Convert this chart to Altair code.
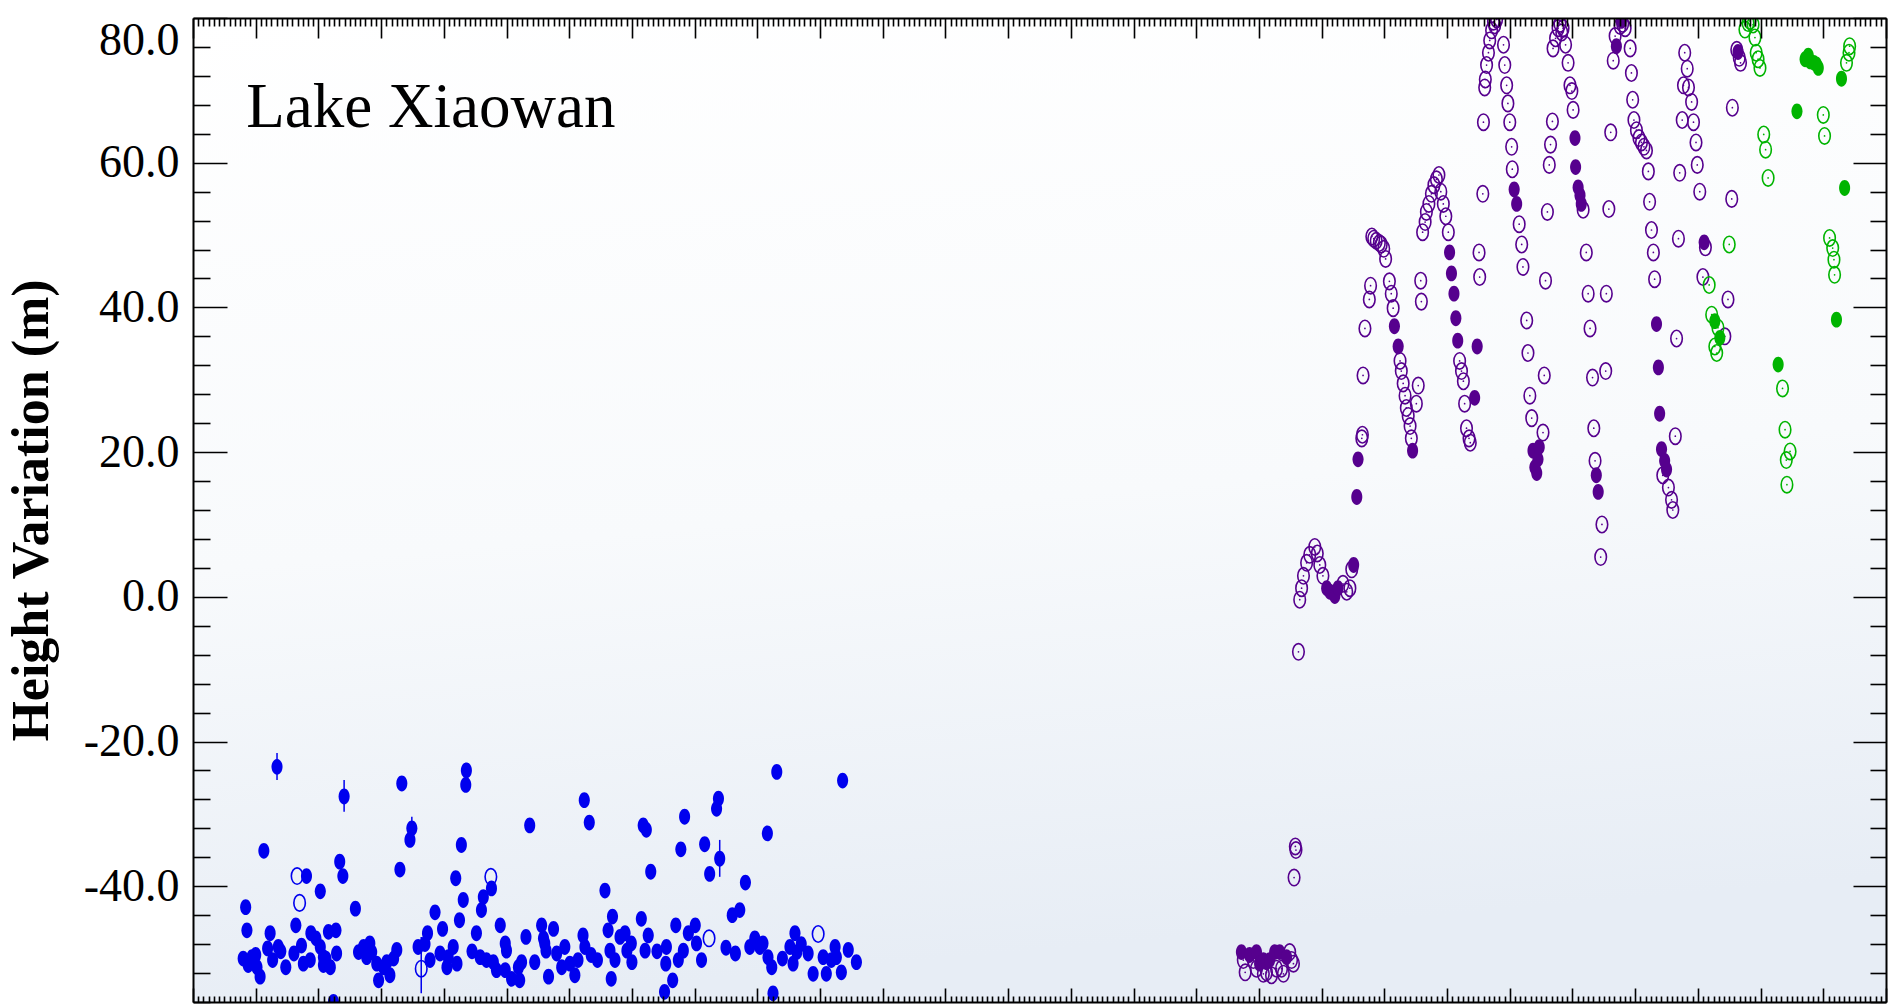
import altair as alt
import pandas as pd

# ---------------- data: (decimal year, height variation in m) ----------------
blue_filled = [
    (1992.80, -50.0), (1992.84, -42.9), (1992.86, -46.1), (1992.88, -50.9), (1992.94, -49.8),
    (1993.00, -49.5), (1993.02, -51.2), (1993.07, -52.5), (1993.13, -35.1), (1993.19, -48.6),
    (1993.23, -46.5), (1993.27, -50.2), (1993.34, -23.5), (1993.36, -48.4), (1993.40, -49.0),
    (1993.48, -51.2), (1993.61, -49.3), (1993.64, -45.4), (1993.73, -48.2), (1993.76, -50.7),
    (1993.81, -38.6), (1993.87, -50.2), (1993.88, -46.5), (1993.96, -47.2), (1994.03, -40.7),
    (1994.03, -48.4), (1994.08, -49.8), (1994.08, -50.9), (1994.12, -50.0), (1994.16, -46.3),
    (1994.19, -51.2), (1994.24, -56.0), (1994.28, -46.1), (1994.29, -49.3), (1994.34, -36.6),
    (1994.39, -38.6), (1994.41, -27.6), (1994.59, -43.1), (1994.64, -49.1), (1994.72, -48.4),
    (1994.77, -49.8), (1994.82, -47.9), (1994.85, -49.1), (1994.93, -50.7), (1994.96, -53.0),
    (1995.04, -51.2), (1995.09, -50.5), (1995.14, -52.3), (1995.20, -50.0), (1995.25, -48.8),
    (1995.30, -37.7), (1995.33, -25.8), (1995.46, -33.6), (1995.49, -32.0), (1995.59, -48.4),
    (1995.70, -48.0), (1995.74, -46.5), (1995.78, -50.2), (1995.86, -43.6), (1995.94, -49.3),
    (1995.98, -45.9), (1996.05, -51.2), (1996.07, -49.8), (1996.15, -48.4), (1996.19, -38.9),
    (1996.21, -50.7), (1996.25, -44.7), (1996.28, -34.3), (1996.31, -41.9), (1996.35, -26.0),
    (1996.36, -24.0), (1996.45, -49.0), (1996.52, -46.5), (1996.58, -49.8), (1996.60, -43.3),
    (1996.63, -41.5), (1996.68, -50.2), (1996.76, -40.3), (1996.79, -50.5), (1996.84, -51.6),
    (1996.90, -45.4), (1996.98, -47.9), (1997.00, -48.9), (1996.98, -51.6), (1997.08, -52.8),
    (1997.19, -51.2), (1997.21, -53.0), (1997.24, -50.5), (1997.31, -47.0), (1997.37, -31.6),
    (1997.45, -50.5), (1997.56, -45.4), (1997.59, -47.2), (1997.61, -47.9), (1997.63, -48.9),
    (1997.67, -52.5), (1997.75, -45.9), (1997.80, -49.3), (1997.88, -51.2), (1997.93, -48.4),
    (1998.01, -50.7), (1998.09, -52.3), (1998.14, -50.2), (1998.22, -46.8), (1998.24, -28.1),
    (1998.25, -48.4), (1998.32, -31.2), (1998.35, -49.5), (1998.45, -50.2), (1998.57, -40.6),
    (1998.62, -46.1), (1998.65, -48.9), (1998.67, -52.8), (1998.69, -44.2), (1998.73, -50.2),
    (1998.81, -47.0), (1998.89, -46.5), (1998.92, -48.9), (1998.99, -47.9), (1999.00, -50.5),
    (1999.15, -44.5), (1999.18, -31.6), (1999.21, -48.9), (1999.23, -32.2), (1999.26, -46.8),
    (1999.30, -38.0), (1999.40, -49.0), (1999.52, -54.6), (1999.54, -50.7), (1999.55, -48.4),
    (1999.65, -53.0), (1999.70, -45.4), (1999.74, -50.2), (1999.78, -34.9), (1999.82, -48.9),
    (1999.84, -30.4), (1999.90, -46.5), (2000.01, -45.4), (2000.03, -47.9), (2000.11, -50.2),
    (2000.16, -34.2), (2000.24, -38.3), (2000.35, -29.3), (2000.38, -27.9), (2000.40, -36.2),
    (2000.50, -48.5), (2000.60, -44.0), (2000.65, -49.3), (2000.72, -43.3), (2000.81, -39.5),
    (2000.88, -48.4), (2000.96, -47.2), (2001.04, -48.4), (2001.09, -47.9), (2001.16, -32.7),
    (2001.17, -49.8), (2001.23, -51.2), (2001.25, -54.8), (2001.31, -24.2), (2001.40, -50.0),
    (2001.52, -48.4), (2001.57, -50.7), (2001.60, -46.5), (2001.63, -49.1), (2001.70, -48.0),
    (2001.81, -49.3), (2001.89, -52.1), (2002.05, -49.8), (2002.10, -52.1), (2002.18, -50.2),
    (2002.24, -48.4), (2002.26, -49.8), (2002.34, -51.9), (2002.36, -25.4), (2002.45, -48.8),
    (2002.58, -50.5),
]
blue_open = [
    (1993.66, -38.6), (1993.70, -42.3), (1995.64, -51.4), (1996.75, -38.7),
    (2000.23, -47.2), (2001.97, -46.6),
]
# vertical error bars on a few blue points
err_year = [1993.34, 1994.41, 1995.49, 1995.64, 2000.40]
err_low = [-25.3, -29.7, -33.8, -54.8, -38.7]
err_high = [-21.6, -25.3, -30.4, -47.0, -33.6]

purple_filled = [
    (2008.72, -49.1), (2008.85, -49.5), (2008.96, -49.1), (2009.01, -50.7), (2009.07, -50.2),
    (2009.12, -50.5), (2009.17, -50.2), (2009.25, -49.1), (2009.33, -49.1), (2009.44, -49.8),
    (2010.08, 1.2), (2010.13, 0.7), (2010.21, 0.1), (2010.26, 1.2), (2010.51, 4.4),
    (2010.56, 13.8), (2010.58, 19.0),
    (2011.16, 37.4), (2011.22, 34.6), (2011.45, 20.2),
    (2012.04, 47.6), (2012.07, 44.7), (2012.11, 41.9), (2012.14, 38.5), (2012.17, 35.4),
    (2012.44, 27.5), (2012.48, 34.6),
    (2013.07, 56.3), (2013.11, 54.3), (2013.37, 20.2), (2013.40, 17.9), (2013.43, 17.1),
    (2013.45, 19.0), (2013.47, 20.7),
    (2014.04, 63.4), (2014.05, 59.4), (2014.09, 56.6), (2014.12, 55.5), (2014.14, 54.3),
    (2014.38, 16.8), (2014.41, 14.5), (2014.70, 76.1), (2014.78, 79.6),
    (2015.34, 37.7), (2015.37, 31.7), (2015.39, 25.3), (2015.42, 20.4), (2015.47, 18.8),
    (2015.50, 17.6), (2016.10, 49.0), (2016.64, 75.3),
]
purple_open = [
    (2008.75, -50.2), (2008.78, -51.9), (2008.91, -50.2), (2008.96, -51.4), (2009.07, -52.1),
    (2009.12, -51.9), (2009.20, -52.3), (2009.28, -51.4), (2009.36, -51.4), (2009.39, -52.1),
    (2009.49, -49.1), (2009.52, -50.2), (2009.55, -50.7),
    (2009.56, -38.8), (2009.58, -34.5), (2009.59, -35.0), (2009.63, -7.6),
    (2009.65, -0.4), (2009.68, 1.2), (2009.71, 2.9), (2009.76, 4.7), (2009.81, 5.8),
    (2009.89, 6.9), (2009.93, 6.0), (2009.97, 4.4), (2010.02, 2.9), (2010.34, 1.8),
    (2010.40, 0.7), (2010.45, 1.2), (2010.48, 3.8),
    (2010.64, 21.9), (2010.65, 22.4), (2010.66, 30.6), (2010.69, 37.1), (2010.76, 41.1),
    (2010.78, 43.0), (2010.80, 49.8), (2010.83, 49.5), (2010.87, 49.2), (2010.92, 48.9),
    (2010.95, 48.7), (2010.99, 48.1), (2011.02, 46.7), (2011.08, 43.6), (2011.11, 41.9),
    (2011.14, 39.9), (2011.25, 32.6), (2011.27, 31.2), (2011.30, 29.5), (2011.33, 27.8),
    (2011.35, 26.1), (2011.38, 25.0), (2011.41, 23.6), (2011.43, 21.9),
    (2011.51, 26.7), (2011.54, 29.2), (2011.58, 43.7), (2011.59, 40.8),
    (2011.61, 50.4), (2011.65, 51.8), (2011.67, 53.2), (2011.71, 54.3), (2011.75, 55.7),
    (2011.79, 56.9), (2011.83, 57.7), (2011.87, 58.3), (2011.90, 56.0), (2011.94, 54.3),
    (2011.98, 52.6), (2012.02, 50.4),
    (2012.20, 32.6), (2012.23, 31.2), (2012.26, 29.8), (2012.28, 26.7), (2012.31, 23.3),
    (2012.35, 21.9), (2012.37, 21.3),
    (2012.51, 47.6), (2012.52, 44.2), (2012.57, 55.7), (2012.58, 65.6),
    (2012.60, 70.4), (2012.61, 71.5), (2012.63, 73.5), (2012.66, 75.2), (2012.68, 76.9),
    (2012.71, 78.3), (2012.74, 79.5), (2012.76, 79.0), (2012.79, 79.8),
    (2012.90, 76.3), (2012.92, 73.5), (2012.95, 70.7), (2012.97, 68.2), (2013.00, 65.6),
    (2013.03, 62.2), (2013.04, 59.1), (2013.15, 51.5), (2013.19, 48.7), (2013.21, 45.6),
    (2013.27, 38.2), (2013.29, 33.7), (2013.32, 27.8), (2013.35, 24.7),
    (2013.53, 22.7), (2013.55, 30.6), (2013.57, 43.7), (2013.60, 53.2), (2013.63, 59.7),
    (2013.65, 62.5), (2013.68, 65.7),
    (2013.69, 75.8), (2013.73, 77.2), (2013.77, 78.6), (2013.80, 79.2), (2013.83, 78.0),
    (2013.85, 78.6), (2013.89, 76.3), (2013.93, 73.8), (2013.96, 70.7), (2013.99, 69.9),
    (2014.01, 67.3), (2014.17, 53.5), (2014.22, 47.6), (2014.25, 41.9), (2014.28, 37.1),
    (2014.32, 30.3), (2014.34, 23.3), (2014.36, 18.8),
    (2014.45, 5.5), (2014.47, 10.0), (2014.53, 31.2), (2014.54, 41.9), (2014.58, 53.6),
    (2014.61, 64.2), (2014.65, 74.1), (2014.68, 77.5), (2014.76, 78.9), (2014.80, 79.2),
    (2014.84, 78.6), (2014.92, 75.8), (2014.94, 72.4), (2014.96, 68.7), (2014.98, 65.9),
    (2015.02, 64.5), (2015.06, 63.4), (2015.10, 62.8), (2015.14, 62.2), (2015.18, 61.7),
    (2015.21, 58.8), (2015.23, 54.6), (2015.26, 50.7), (2015.29, 47.6), (2015.31, 43.9),
    (2015.44, 16.8), (2015.53, 15.1), (2015.58, 13.4), (2015.60, 12.0), (2015.64, 22.2),
    (2015.66, 35.7), (2015.69, 49.5), (2015.71, 58.6), (2015.75, 65.9),
    (2015.77, 70.7), (2015.79, 75.2), (2015.83, 73.0), (2015.85, 70.4), (2015.90, 68.4),
    (2015.93, 65.6), (2015.97, 62.8), (2015.99, 59.7), (2016.03, 56.0),
    (2016.08, 44.2), (2016.12, 48.3), (2016.43, 36.0), (2016.48, 41.1), (2016.54, 55.0),
    (2016.55, 67.6), (2016.62, 75.6), (2016.66, 74.5), (2016.68, 73.8),
]
green_filled = [
    (2016.27, 38.1), (2016.35, 35.8), (2017.28, 32.1), (2017.58, 67.1), (2017.71, 74.3),
    (2017.76, 74.8), (2017.79, 74.0), (2017.85, 73.8), (2017.89, 73.6), (2017.92, 73.1),
    (2018.21, 38.3), (2018.29, 71.6), (2018.34, 56.5),
]
green_open = [
    (2016.18, 43.1), (2016.22, 39.0), (2016.27, 34.6), (2016.30, 33.7), (2016.32, 37.2),
    (2016.50, 48.7), (2016.75, 78.4), (2016.80, 79.3), (2016.83, 79.6), (2016.88, 79.1),
    (2016.91, 77.3), (2016.93, 75.2), (2016.96, 74.3), (2016.99, 73.1), (2017.05, 63.9),
    (2017.08, 61.8), (2017.12, 57.9), (2017.35, 28.8), (2017.39, 23.1), (2017.41, 18.9),
    (2017.42, 15.5), (2017.47, 20.1), (2018.00, 66.6), (2018.02, 63.7), (2018.10, 49.6),
    (2018.15, 48.2), (2018.17, 46.6), (2018.18, 44.5), (2018.37, 73.8), (2018.41, 75.2),
    (2018.42, 76.1),
]

series_names = ["TP", "J2", "J3"]
series_colors = ["#0000ee", "#56008e", "#00b400"]

annotation_text = "Lake Xiaowan"
annotation_year = 1992.85
annotation_height = 65.0

x_domain = [1992, 2019]
y_domain = [-56, 80]
y_label_values = [-40, -20, 0, 20, 40, 60, 80]

# ---------------- layout ----------------
W, H = 1693, 984
ELLIPSE = "M0,-1A0.7,1,0,1,1,0,1A0.7,1,0,1,1,0,-1Z"
SERIF = "Liberation Serif"


def frame(pairs, series, kind):
    return pd.DataFrame({
        "year": [p[0] for p in pairs],
        "height": [p[1] for p in pairs],
        "series": series,
        "kind": kind,
    })


filled_df = pd.concat([
    frame(blue_filled, "TP", "filled"),
    frame(purple_filled, "J2", "filled"),
    frame(green_filled, "J3", "filled"),
], ignore_index=True)
open_df = pd.concat([
    frame(blue_open, "TP", "open"),
    frame(purple_open, "J2", "open"),
    frame(green_open, "J3", "open"),
], ignore_index=True)
dot_df = open_df[open_df["series"] != "TP"].reset_index(drop=True)
err_df = pd.DataFrame({"year": err_year, "low": err_low, "high": err_high})

xs = alt.Scale(domain=x_domain, nice=False, zero=False)
ys = alt.Scale(domain=y_domain, nice=False, zero=False)
cs = alt.Scale(domain=series_names, range=series_colors)

month_ticks = [round(x_domain[0] + m / 12, 6) for m in range((x_domain[1] - x_domain[0]) * 12 + 1)]
y_minor_ticks = list(range(y_domain[0], y_domain[1] + 1, 4))
X_MAJOR = "abs(datum.value - round(datum.value)) < 0.001"
Y_MAJOR = "datum.value % 20 == 0"

frame_style = dict(labels=False, grid=False, title=None, domain=True, domainColor="black",
                   domainWidth=2, ticks=True, tickColor="black", tickWidth=1.6, zindex=2)

ax_x_bottom = alt.Axis(orient="top", offset=-H, values=month_ticks,
                       tickSize={"condition": {"test": X_MAJOR, "value": 14}, "value": 6},
                       **frame_style)
ax_x_top = alt.Axis(orient="bottom", offset=-H, values=month_ticks,
                    tickSize={"condition": {"test": X_MAJOR, "value": 20}, "value": 8},
                    **frame_style)
ax_y_left_ticks = alt.Axis(orient="right", offset=-W, values=y_minor_ticks,
                           tickSize={"condition": {"test": Y_MAJOR, "value": 34}, "value": 17},
                           **frame_style)
ax_y_right_ticks = alt.Axis(orient="left", offset=-W, values=y_minor_ticks,
                            tickSize={"condition": {"test": Y_MAJOR, "value": 33}, "value": 16},
                            **frame_style)
ax_y_labels = alt.Axis(orient="left", values=y_label_values,
                       labelExpr="(datum.value < 0 ? '-' : '') + format(abs(datum.value), '.1f')",
                       ticks=False, domain=False, grid=False, labelFont=SERIF, labelFontSize=46,
                       labelColor="black", labelPadding=14, labelFlush=True,
                       title="Height Variation (m)", titleFont=SERIF, titleFontSize=52,
                       titleFontWeight="bold", titleColor="black", titlePadding=25)

background = alt.Chart(alt.Data(values=[{"k": 0}])).mark_rect(
    color=alt.Gradient(
        gradient="linear",
        stops=[alt.GradientStop(color="#ffffff", offset=0),
               alt.GradientStop(color="#f8fafc", offset=0.55),
               alt.GradientStop(color="#e7edf5", offset=1)],
        x1=0, x2=0.15, y1=0, y2=1),
).encode(x=alt.value(0), x2=alt.value(W), y=alt.value(0), y2=alt.value(H))

open_layer = alt.Chart(open_df).mark_point(
    shape=ELLIPSE, filled=False, size=270, strokeWidth=1.6, opacity=1, clip=True
).encode(
    x=alt.X("year:Q", scale=xs, axis=ax_x_bottom),
    y=alt.Y("height:Q", scale=ys, axis=ax_y_labels),
    color=alt.Color("series:N", scale=cs, legend=None),
)

dot_layer = alt.Chart(dot_df).mark_point(
    shape="circle", filled=True, size=3, opacity=1, clip=True
).encode(
    x=alt.X("year:Q", scale=xs, axis=None),
    y=alt.Y("height:Q", scale=ys, axis=ax_y_right_ticks),
    color=alt.Color("series:N", scale=cs, legend=None),
)

filled_layer = alt.Chart(filled_df).mark_point(
    shape=ELLIPSE, filled=True, size=250, opacity=1, clip=True
).encode(
    x=alt.X("year:Q", scale=xs, axis=ax_x_top),
    y=alt.Y("height:Q", scale=ys, axis=ax_y_left_ticks),
    color=alt.Color("series:N", scale=cs, legend=None),
)

err_layer = alt.Chart(err_df).mark_rule(color=series_colors[0], strokeWidth=1.5).encode(
    x=alt.X("year:Q", scale=xs, axis=None),
    y=alt.Y("low:Q", scale=ys, axis=None),
    y2="high:Q",
)

text_layer = alt.Chart(alt.Data(values=[{"k": 0}])).mark_text(
    font=SERIF, fontSize=63, align="left", baseline="alphabetic", color="black"
).encode(
    x=alt.XDatum(annotation_year, type="quantitative", scale=xs, axis=None),
    y=alt.YDatum(annotation_height, type="quantitative", scale=ys, axis=None),
    text=alt.value(annotation_text),
)

chart = alt.layer(
    background, open_layer, dot_layer, filled_layer, err_layer, text_layer
).resolve_axis(
    x="independent", y="independent"
).properties(
    width=W, height=H,
    padding={"left": 193, "top": 18, "right": 12, "bottom": 4},
    autosize=alt.AutoSizeParams(type="none"),
    background="white",
).configure_view(stroke=None)

chart.save("out.html", embed_options={"renderer": "svg", "actions": False})
